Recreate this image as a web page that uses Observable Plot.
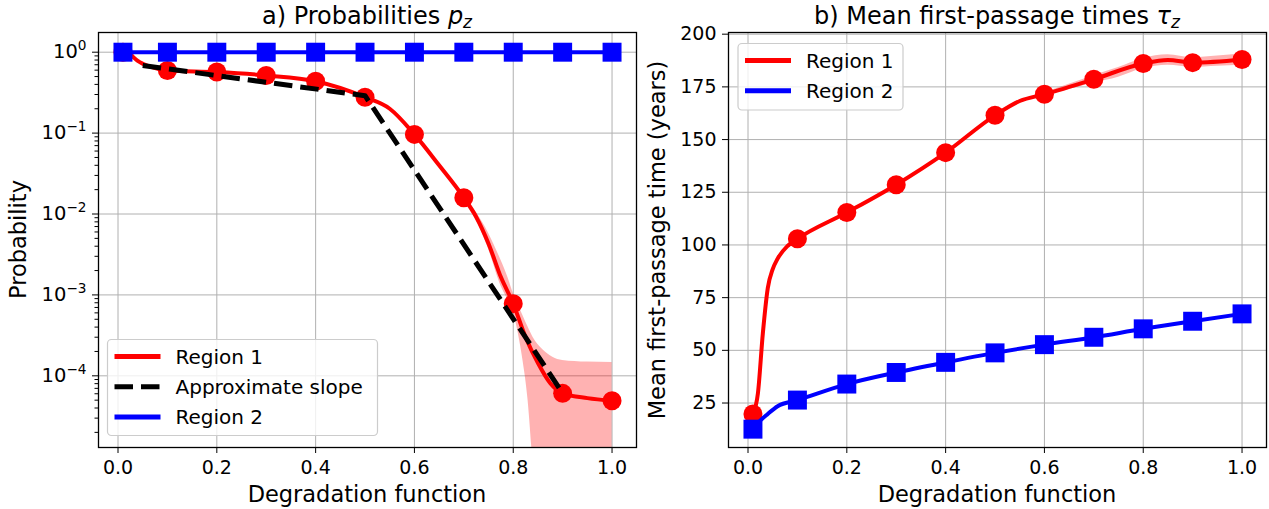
<!DOCTYPE html>
<html>
<head>
<meta charset="utf-8">
<script src="https://cdn.jsdelivr.net/npm/d3@7"></script>
<script src="https://cdn.jsdelivr.net/npm/@observablehq/plot@0.6"></script>
<style>
  html, body { margin: 0; padding: 0; background: white; }
  #wrap { position: relative; width: 1269px; height: 509px; overflow: hidden; font-family: "DejaVu Sans", sans-serif; }
  #wrap svg.plotsvg { position: absolute; top: 0; }
  #overlay { position: absolute; left: 0; top: 0; pointer-events: none; }
</style>
</head>
<body>
<div id="wrap"></div>
<script>
// ---------------- data ----------------
const xMarks   = [0.01, 0.1, 0.2, 0.3, 0.4, 0.5, 0.6, 0.7, 0.8, 0.9, 1.0];
const pRegion1 = [1.0, 0.594, 0.568, 0.516, 0.438, 0.278, 0.0964, 0.0159, 0.00078, 0.0000607, 0.0000492];
const pRegion2 = [1, 1, 1, 1, 1, 1, 1, 1, 1, 1, 1];

const pCurveX = [0.01, 0.02, 0.03, 0.04, 0.05, 0.07, 0.1, 0.2, 0.3, 0.4, 0.5, 0.55, 0.6, 0.65, 0.7, 0.725, 0.75, 0.775, 0.8, 0.825, 0.85, 0.875, 0.9, 0.95, 1.0];
const pCurveY = [1.0, 1.0, 0.88, 0.78, 0.72, 0.65, 0.594, 0.568, 0.516, 0.438, 0.278, 0.2, 0.0964, 0.04, 0.0159, 0.0092, 0.0043, 0.00166, 0.00078, 0.0003, 0.000144, 0.000081, 0.0000607, 0.000053, 0.0000492];

const pBandX  = [0.7, 0.725, 0.75, 0.775, 0.79, 0.8, 0.81, 0.82, 0.83, 0.84, 0.86, 0.88, 0.9, 0.95, 1.0];
const pBandLo = [0.0150, 0.0085, 0.0037, 0.0013, 0.00085, 0.00062, 0.00034, 0.00015, 0.00005, 0.000008, 1e-7, 1e-7, 1e-7, 1e-7, 1e-7];
const pBandHi = [0.0168, 0.0105, 0.0058, 0.0027, 0.0016, 0.00105, 0.00075, 0.00055, 0.00040, 0.0003, 0.00021, 0.00017, 0.000155, 0.000148, 0.000146];

const slopeX = [0.05, 0.5, 0.9];
const slopeY = [0.685, 0.29, 0.000061];

const tRegion1 = [19.8, 102.9, 115.4, 128.6, 143.8, 161.5, 171.5, 178.6, 186.1, 186.5, 188.0];
const tRegion2 = [12.6, 26.4, 34.0, 39.5, 44.3, 48.8, 52.7, 56.2, 60.2, 63.8, 67.3];

const t1CurveX = [0.01, 0.02, 0.03, 0.04, 0.05, 0.06, 0.08, 0.1, 0.2, 0.3, 0.4, 0.5, 0.55, 0.6, 0.7, 0.8, 0.85, 0.9, 1.0];
const t1CurveY = [19.8, 29.5, 58, 79.5, 88.5, 93.5, 99.5, 102.9, 115.4, 128.6, 143.8, 161.5, 168.3, 171.5, 178.6, 186.1, 187.8, 186.5, 188.0];

const t2CurveX = [0.01, 0.02, 0.04, 0.06, 0.1, 0.2, 0.3, 0.4, 0.5, 0.6, 0.7, 0.8, 0.9, 1.0];
const t2CurveY = [12.6, 15.5, 19.8, 23.5, 26.4, 34.0, 39.5, 44.3, 48.8, 52.7, 56.2, 60.2, 63.8, 67.3];

const tBandX  = [0.55, 0.6, 0.65, 0.7, 0.75, 0.8, 0.85, 0.9, 0.95, 1.0];
const tBandLo = [168.0, 170.8, 173.8, 176.8, 179.6, 183.7, 185.3, 184.3, 184.8, 185.3];
const tBandHi = [168.6, 172.2, 176.2, 180.4, 184.2, 188.5, 190.2, 188.8, 189.6, 190.7];

const xTicks = [0, 0.2, 0.4, 0.6, 0.8, 1.0];
const pTicks = [1e-4, 1e-3, 1e-2, 1e-1, 1];
const tTicks = [25, 50, 75, 100, 125, 150, 175, 200];

const titleA = "a) Probabilities ";
const titleB = "b) Mean first-passage times ";
const xLabel = "Degradation function";
const yLabelA = "Probability";
const yLabelB = "Mean first-passage time (years)";
const legendA = ["Region 1", "Approximate slope", "Region 2"];
const legendB = ["Region 1", "Region 2"];

// ---------------- helpers ----------------
const zip = (xs, ys) => xs.map((x, i) => ({x, y: ys[i]}));
const zipBand = (xs, lo, hi) => xs.map((x, i) => ({x, lo: lo[i], hi: hi[i]}));
// tick label text "10^e" – rewritten into a real superscript after render
const expFmt = d => "10^" + String(Math.round(Math.log10(d))).replace("-", "\u2212");
const minorP = [];
for (let e = -5; e <= 0; e++) for (let k = 2; k <= 9; k++) minorP.push(k * Math.pow(10, e));

const RED = "#ff0000", BLUE = "#0000ff", GRID = "#b0b0b0";
const FONT = "DejaVu Sans";
const xDomain = [-0.0395, 1.0495];

function common(extra) {
  return Object.assign({
    height: 509,
    marginTop: 32, marginBottom: 62,
    style: {fontFamily: FONT, fontSize: "19px", background: "transparent", color: "black", overflow: "visible"},
    x: {domain: xDomain}
  }, extra);
}

// ---------------- left chart ----------------
const left = Plot.plot(common({
  width: 640, marginLeft: 98, marginRight: 4,
  y: {type: "log", domain: [1.3e-5, 1.752]},
  marks: [
    Plot.gridX({ticks: xTicks, stroke: GRID, strokeOpacity: 1, strokeWidth: 1}),
    Plot.gridY({ticks: pTicks, stroke: GRID, strokeOpacity: 1, strokeWidth: 1}),
    Plot.areaY(zipBand(pBandX, pBandLo, pBandHi), {x: "x", y1: "lo", y2: "hi", fill: RED, fillOpacity: 0.3, curve: "monotone-x", clip: true}),
    Plot.line(zip(pCurveX, pCurveY), {x: "x", y: "y", stroke: RED, strokeWidth: 4, curve: "monotone-x"}),
    Plot.dot(zip(xMarks, pRegion1), {x: "x", y: "y", r: 9.5, fill: RED, stroke: null}),
    Plot.line(zip(slopeX, slopeY), {x: "x", y: "y", stroke: "black", strokeWidth: 5, strokeDasharray: "18.5,8", strokeLinecap: "butt"}),
    Plot.line(zip(xMarks, pRegion2), {x: "x", y: "y", stroke: BLUE, strokeWidth: 4}),
    Plot.dot(zip(xMarks, pRegion2), {x: "x", y: "y", r: 10.7, symbol: "square", fill: BLUE, stroke: null}),
    Plot.frame({stroke: "black", strokeWidth: 1.3}),
    Plot.axisX({ticks: xTicks, tickFormat: d3.format(".1f"), tickSize: 6, tickPadding: 7, label: null, fontSize: 19}),
    Plot.axisY({ticks: pTicks, tickFormat: expFmt, tickSize: 6, tickPadding: 6, label: null, fontSize: 19.5, ariaLabel: "ylog"}),
    Plot.axisY({ticks: minorP.filter(v => v > 1.3e-5 && v < 1.752), tickFormat: () => "", tickSize: 3.5, label: null})
  ]
}));
left.classList.add("plotsvg");
left.style.left = "0px";

// turn "10^e" into 10 with a superscript exponent
d3.select(left).selectAll("text").each(function () {
  const s = this.textContent;
  if (!s.startsWith("10^")) return;
  const exp = s.slice(3);
  const sel = d3.select(this);
  sel.text(null);
  sel.append("tspan").text("10");
  sel.append("tspan").attr("font-size", "0.7em").attr("dy", "-0.6em").text(exp);
});

// ---------------- right chart ----------------
const right = Plot.plot(common({
  width: 629, marginLeft: 88, marginRight: 3,
  y: {domain: [3.9, 200.8]},
  marks: [
    Plot.gridX({ticks: xTicks, stroke: GRID, strokeOpacity: 1, strokeWidth: 1}),
    Plot.gridY({ticks: tTicks, stroke: GRID, strokeOpacity: 1, strokeWidth: 1}),
    Plot.areaY(zipBand(tBandX, tBandLo, tBandHi), {x: "x", y1: "lo", y2: "hi", fill: RED, fillOpacity: 0.3, curve: "monotone-x"}),
    Plot.line(zip(t1CurveX, t1CurveY), {x: "x", y: "y", stroke: RED, strokeWidth: 4, curve: "monotone-x"}),
    Plot.dot(zip(xMarks, tRegion1), {x: "x", y: "y", r: 9.5, fill: RED, stroke: null}),
    Plot.line(zip(t2CurveX, t2CurveY), {x: "x", y: "y", stroke: BLUE, strokeWidth: 4, curve: "monotone-x"}),
    Plot.dot(zip(xMarks, tRegion2), {x: "x", y: "y", r: 10.7, symbol: "square", fill: BLUE, stroke: null}),
    Plot.frame({stroke: "black", strokeWidth: 1.3}),
    Plot.axisX({ticks: xTicks, tickFormat: d3.format(".1f"), tickSize: 6, tickPadding: 7, label: null, fontSize: 19}),
    Plot.axisY({ticks: tTicks, tickFormat: d3.format("d"), tickSize: 6, tickPadding: 6, label: null, fontSize: 19})
  ]
}));
right.classList.add("plotsvg");
right.style.left = "640px";

const wrap = document.getElementById("wrap");
wrap.appendChild(left);
wrap.appendChild(right);

// ---------------- titles, labels, legends ----------------
const NS = "http://www.w3.org/2000/svg";
const ov = d3.select(wrap).append("svg").attr("id", "overlay").attr("xmlns", NS)
  .attr("width", 1269).attr("height", 509)
  .style("font-family", FONT);

function title(cx, main, sym) {
  const t = ov.append("text").attr("x", cx).attr("y", 24).attr("text-anchor", "middle").attr("font-size", 24);
  t.append("tspan").text(main);
  t.append("tspan").attr("font-style", "italic").text(sym);
  t.append("tspan").attr("font-style", "italic").attr("font-size", 17).attr("dy", 4).text("z");
}
title(367, titleA, "p");
title(997, titleB, "\u03C4");

const LBL = 22.5;
ov.append("text").attr("x", 367).attr("y", 502).attr("text-anchor", "middle").attr("font-size", LBL).text(xLabel);
ov.append("text").attr("x", 997).attr("y", 502).attr("text-anchor", "middle").attr("font-size", LBL).text(xLabel);
ov.append("text").attr("transform", "translate(26,239.5) rotate(-90)").attr("text-anchor", "middle").attr("font-size", LBL).text(yLabelA);
ov.append("text").attr("transform", "translate(665,240) rotate(-90)").attr("text-anchor", "middle").attr("font-size", LBL).text(yLabelB);

function legend(x0, y0, w, h, entries) {
  const g = ov.append("g");
  g.append("rect").attr("x", x0).attr("y", y0).attr("width", w).attr("height", h).attr("rx", 4)
    .attr("fill", "white").attr("fill-opacity", 0.8).attr("stroke", "#cccccc").attr("stroke-width", 1.2);
  entries.forEach((e, i) => {
    const cy = y0 + 17 + i * 30.3;
    g.append("line").attr("x1", x0 + 7).attr("x2", x0 + 53).attr("y1", cy).attr("y2", cy)
      .attr("stroke", e.color).attr("stroke-width", 5)
      .attr("stroke-dasharray", e.dash || null).attr("stroke-linecap", "butt");
    g.append("text").attr("x", x0 + 68).attr("y", cy + 7).attr("font-size", 20).text(e.label);
  });
}
legend(107.5, 339.5, 270, 96, [
  {label: legendA[0], color: RED},
  {label: legendA[1], color: "black", dash: "18.5,8"},
  {label: legendA[2], color: BLUE}
]);
legend(738, 43.5, 165, 66.5, [
  {label: legendB[0], color: RED},
  {label: legendB[1], color: BLUE}
]);
</script>
</body>
</html>
